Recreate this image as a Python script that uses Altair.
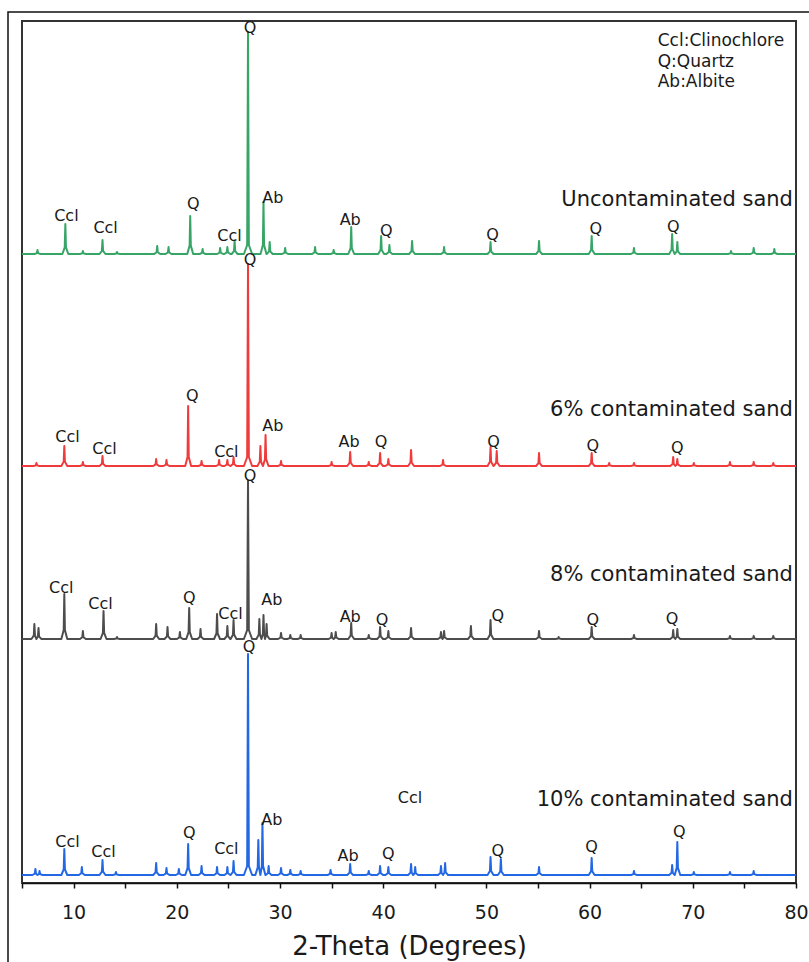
import altair as alt
import pandas as pd

# ---------------- data ----------------
traces = ["Uncontaminated sand", "6% contaminated sand", "8% contaminated sand", "10% contaminated sand"]
colors = ["#36a566", "#ef3b3b", "#4d4d4d", "#2267e3"]

# vertical offset (baseline) of every pattern, arbitrary intensity units
baselines = [629, 417, 244, 8]

green_x = [6.5, 9.2, 10.9, 12.8, 14.2, 18.1, 19.2, 21.3, 22.5, 24.2, 24.9, 25.6, 26.9, 28.4, 29.0,
           30.5, 33.4, 35.2, 36.9, 39.8, 40.6, 42.8, 45.9, 50.4, 55.1, 60.2, 64.3, 68.0, 68.5, 73.7, 75.9, 77.9]
green_h = [4, 30, 3, 14, 2, 8, 7, 38, 5, 6, 7, 13, 222, 52, 12,
           6, 7, 4, 27, 18, 9, 13, 7, 12, 13, 18, 6, 20, 12, 3, 6, 5]

red_x = [6.4, 9.1, 10.9, 12.8, 18.0, 19.0, 21.1, 22.4, 24.1, 24.9, 25.5, 26.9, 28.1, 28.6, 30.1,
         35.0, 36.8, 38.6, 39.7, 40.5, 42.7, 45.8, 50.4, 51.0, 55.1, 60.2, 61.9, 64.3, 68.1, 68.5,
         70.1, 73.6, 75.9, 77.8]
red_h = [3, 20, 4, 10, 7, 6, 60, 5, 6, 6, 9, 202, 20, 31, 5,
         4, 14, 4, 13, 7, 16, 6, 19, 15, 13, 13, 3, 3, 9, 7,
         3, 4, 4, 3]

gray_x = [6.2, 6.6, 9.1, 10.9, 12.9, 14.2, 18.0, 19.1, 20.3, 21.2, 22.3, 23.9, 24.9, 25.5, 26.9,
          28.0, 28.4, 28.7, 30.1, 31.0, 32.0, 35.0, 35.4, 36.9, 38.6, 39.7, 40.5, 42.7, 45.6, 45.9,
          48.5, 50.4, 55.1, 57.0, 60.2, 64.3, 68.1, 68.5, 73.6, 75.9, 77.8]
gray_h = [15, 11, 45, 8, 28, 2, 15, 12, 7, 31, 10, 25, 13, 19, 158,
          20, 24, 15, 6, 4, 4, 6, 7, 16, 4, 12, 8, 11, 7, 8,
          13, 19, 8, 2, 12, 4, 9, 10, 3, 3, 3]

blue_x = [6.3, 6.7, 9.1, 10.8, 12.8, 14.1, 18.0, 19.0, 20.2, 21.1, 22.4, 23.9, 24.9, 25.5, 26.9,
          27.9, 28.3, 28.9, 30.1, 31.0, 32.0, 34.9, 36.8, 38.6, 39.7, 40.5, 42.7, 43.1, 45.6, 46.0,
          50.4, 51.4, 55.1, 60.2, 64.3, 68.0, 68.5, 70.1, 73.6, 75.9]
blue_h = [6, 4, 26, 8, 15, 3, 12, 7, 6, 31, 9, 8, 8, 14, 221,
          35, 52, 9, 7, 5, 4, 5, 11, 4, 9, 8, 11, 8, 9, 12,
          18, 16, 8, 17, 4, 10, 33, 3, 3, 4]

peak_x = [green_x, red_x, gray_x, blue_x]
peak_h = [green_h, red_h, gray_h, blue_h]

# phase labels above the peaks
label_text = ["Ccl", "Ccl", "Q", "Ccl", "Q", "Ab", "Ab", "Q", "Q", "Q", "Q",
              "Ccl", "Ccl", "Q", "Ccl", "Q", "Ab", "Ab", "Q", "Q", "Q", "Q",
              "Ccl", "Ccl", "Q", "Ccl", "Q", "Ab", "Ab", "Q", "Q", "Q", "Q",
              "Ccl", "Ccl", "Q", "Ccl", "Q", "Ab", "Ab", "Q", "Q", "Q", "Q", "Ccl"]
label_x = [9.3, 13.1, 21.6, 25.1, 27.1, 29.3, 36.8, 40.3, 50.6, 60.6, 68.1,
           9.4, 13.0, 21.5, 24.8, 27.1, 29.3, 36.7, 39.8, 50.7, 60.3, 68.5,
           8.8, 12.6, 21.2, 25.2, 27.1, 29.2, 36.8, 39.9, 51.1, 60.3, 68.0,
           9.4, 12.9, 21.2, 24.8, 27.0, 29.2, 36.6, 40.5, 51.1, 60.2, 68.7, 42.6]
label_y = [667, 655, 679, 647, 855, 685, 663, 652, 648, 654, 656,
           446, 434, 487, 431, 623, 457, 441, 441, 441, 437, 435,
           295, 279, 285, 269, 407, 283, 266, 263, 267, 263, 264,
           41, 31, 50, 34, 236, 63, 27, 29, 32, 36, 51, 85]

name_y = [683, 473, 308, 83]
name_x = 79.7

key_text = ["Ccl:Clinochlore", "Q:Quartz", "Ab:Albite"]
key_y = [842, 821, 801]
key_x = 66.6

x_ticks = list(range(5, 81, 5))

# ---------------- build tables ----------------
rows = []
for t, base, xs, hs in zip(traces, baselines, peak_x, peak_h):
    pts = [(5.0, base)]
    for k, (p, h) in enumerate(zip(xs, hs)):
        w = 0.18 if h > 100 else 0.13
        lo = (xs[k - 1] + p) / 2 if k > 0 else 5.0
        hi = (xs[k + 1] + p) / 2 if k < len(xs) - 1 else 80.0
        sh = min(0.22 * h, 9)
        pts.append((max(p - 2.2 * w, lo), base))
        pts.append((max(p - 0.45 * w, lo), base + sh))
        pts.append((p, base + h))
        pts.append((min(p + 0.45 * w, hi), base + sh))
        pts.append((min(p + 2.2 * w, hi), base))
    pts.append((80.0, base))
    for i, (x, y) in enumerate(pts):
        rows.append({"trace": t, "x": x, "y": y, "i": i})
lines_df = pd.DataFrame(rows)

labels_df = pd.DataFrame({"text": label_text, "x": label_x, "y": label_y})
names_df = pd.DataFrame({"text": traces, "x": [name_x] * 4, "y": name_y})
key_df = pd.DataFrame({"text": key_text, "x": [key_x] * 3, "y": key_y})

FONT = "DejaVu Sans"
TXT = "#1a1a1a"

xscale = alt.Scale(domain=[5, 80], nice=False, zero=False)
yscale = alt.Scale(domain=[0, 862], nice=False, zero=False)

xaxis = alt.Axis(
    values=x_ticks,
    labelExpr="datum.value % 10 === 0 ? datum.label : ''",
    tickSize=5, tickWidth=1.5, tickColor="#111",
    domainColor="#111", domainWidth=1.5,
    labelFont=FONT, labelFontSize=19, labelColor=TXT, labelPadding=15,
    labelOverlap=False, labelFlush=False,
    titleFont=FONT, titleFontSize=26, titleFontWeight="normal", titleColor=TXT,
    titlePadding=11, grid=False,
)

frame = alt.Chart(pd.DataFrame({"a": [0]})).mark_rect(
    fillOpacity=0, stroke="#111", strokeWidth=1.5
).encode(x=alt.value(-14), x2=alt.value(800), y=alt.value(-9), y2=alt.value(960))

lines = alt.Chart(lines_df).mark_line(strokeWidth=2, strokeJoin="round").encode(
    x=alt.X("x:Q", scale=xscale, axis=xaxis, title="2-Theta (Degrees)"),
    y=alt.Y("y:Q", scale=yscale, axis=None),
    color=alt.Color("trace:N", scale=alt.Scale(domain=traces, range=colors), legend=None),
    order="i:Q",
)

peak_labels = alt.Chart(labels_df).mark_text(
    font=FONT, fontSize=16, color=TXT, align="center", baseline="middle"
).encode(x=alt.X("x:Q", scale=xscale), y=alt.Y("y:Q", scale=yscale), text="text:N")

names = alt.Chart(names_df).mark_text(
    font=FONT, fontSize=21, color=TXT, align="right", baseline="middle"
).encode(x=alt.X("x:Q", scale=xscale), y=alt.Y("y:Q", scale=yscale), text="text:N")

key = alt.Chart(key_df).mark_text(
    font=FONT, fontSize=17, color=TXT, align="left", baseline="middle"
).encode(x=alt.X("x:Q", scale=xscale), y=alt.Y("y:Q", scale=yscale), text="text:N")

chart = alt.layer(frame, lines, peak_labels, names, key).properties(
    width=774, height=862,
    padding={"left": 22, "top": 21, "right": 13, "bottom": 79},
    autosize=alt.AutoSizeParams(type="none"),
    background="white",
).configure_view(stroke="#333", strokeWidth=2)

chart.save("out.html", embed_options={"renderer": "svg", "actions": False})
